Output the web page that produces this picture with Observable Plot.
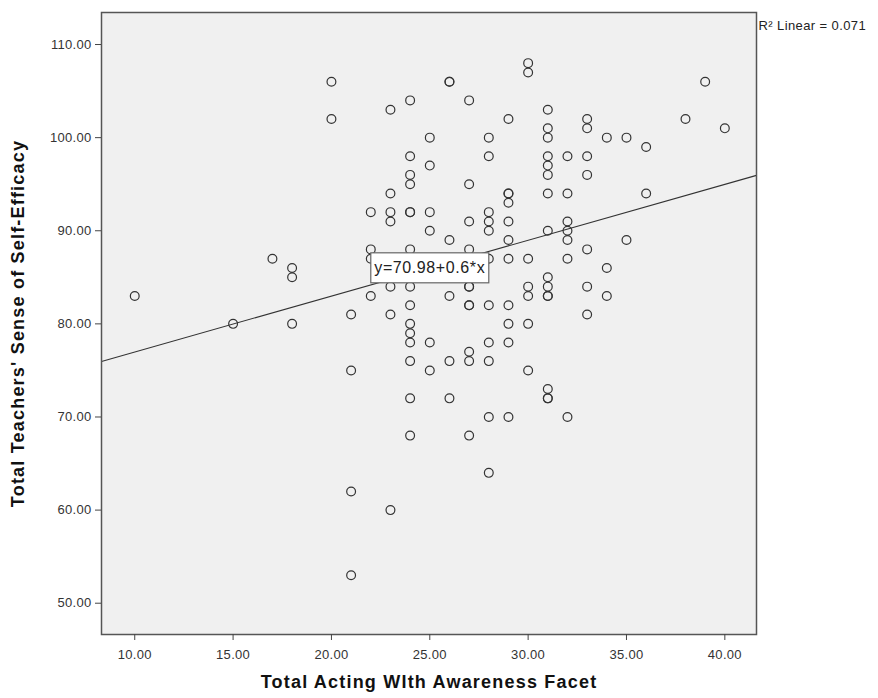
<!DOCTYPE html>
<html>
<head>
<meta charset="utf-8">
<script src="https://cdn.jsdelivr.net/npm/d3@7"></script>
<script src="https://cdn.jsdelivr.net/npm/@observablehq/plot@0.6"></script>
<style>
  html, body { margin: 0; padding: 0; background: #fff; }
  #chart svg { display: block; }
</style>
</head>
<body>
<div id="chart"></div>
<script>
// Total Acting With Awareness Facet (x) for each respondent
const actingWithAwareness = [
  10,
  15,
  17,
  18, 18, 18,
  20, 20,
  21, 21, 21, 21,
  22, 22, 22, 22,
  23, 23, 23, 23, 23, 23, 23,
  24, 24, 24, 24, 24, 24, 24, 24, 24, 24, 24, 24, 24, 24, 24,
  25, 25, 25, 25, 25, 25,
  26, 26, 26, 26, 26, 26,
  27, 27, 27, 27, 27, 27, 27, 27, 27, 27, 27,
  28, 28, 28, 28, 28, 28, 28, 28, 28, 28, 28,
  29, 29, 29, 29, 29, 29, 29, 29, 29, 29, 29,
  30, 30, 30, 30, 30, 30, 30,
  31, 31, 31, 31, 31, 31, 31, 31, 31, 31, 31, 31, 31, 31, 31,
  32, 32, 32, 32, 32, 32, 32,
  33, 33, 33, 33, 33, 33, 33,
  34, 34, 34,
  35, 35,
  36, 36,
  38,
  39,
  40
];
// Total Teachers' Sense of Self-Efficacy (y) for each respondent
const selfEfficacy = [
  83,
  80,
  87,
  86, 85, 80,
  106, 102,
  81, 75, 62, 53,
  92, 88, 87, 83,
  103, 94, 92, 91, 84, 81, 60,
  104, 98, 96, 95, 92, 92, 88, 84, 82, 80, 79, 78, 76, 72, 68,
  100, 97, 92, 90, 78, 75,
  106, 106, 89, 83, 76, 72,
  104, 95, 91, 88, 84, 84, 82, 82, 77, 76, 68,
  100, 98, 92, 91, 90, 87, 82, 78, 76, 70, 64,
  102, 94, 94, 93, 91, 89, 87, 82, 80, 78, 70,
  108, 107, 87, 84, 83, 80, 75,
  103, 101, 100, 98, 97, 96, 94, 90, 85, 84, 83, 83, 73, 72, 72,
  98, 94, 91, 90, 89, 87, 70,
  102, 101, 98, 96, 88, 84, 81,
  100, 86, 83,
  100, 89,
  99, 94,
  102,
  106,
  101
];

const xTicks = [10, 15, 20, 25, 30, 35, 40];
const yTicks = [50, 60, 70, 80, 90, 100, 110];
const xDomain = [8.31, 41.61];
const yDomain = [46.64, 113.44];

const fitIntercept = 70.98;
const fitSlope = 0.6;
const fitLabelX = 25;
const fitLabel = "y=70.98+0.6*x";
const r2Label = "R² Linear = 0.071";
const xTitle = "Total Acting WIth Awareness Facet";
const yTitle = "Total Teachers' Sense of Self-Efficacy";

const points = actingWithAwareness.map((x, i) => ({x, y: selfEfficacy[i]}));
const fitLine = xDomain.map(x => ({x, y: fitIntercept + fitSlope * x}));
const fitLabelDatum = [{x: fitLabelX, y: fitIntercept + fitSlope * fitLabelX, text: fitLabel}];

const font = "'Liberation Sans', Arial, sans-serif";

const chart = Plot.plot({
  width: 878,
  height: 698,
  marginLeft: 101,
  marginRight: 122,
  marginTop: 12,
  marginBottom: 64,
  x: {domain: xDomain},
  y: {domain: yDomain},
  style: {fontFamily: font, background: "#fff", color: "#333", overflow: "visible"},
  marks: [
    Plot.frame({fill: "#f0f0f0"}),
    Plot.line(fitLine, {x: "x", y: "y", stroke: "#333", strokeWidth: 1.1}),
    Plot.dot(points, {x: "x", y: "y", r: 4.4, stroke: "#333", strokeWidth: 1.2, fill: "none"}),
    Plot.text(fitLabelDatum, {x: "x", y: "y", text: "text", fontSize: 16, fill: "#222", className: "fit-label"}),
    Plot.frame({stroke: "#555", strokeWidth: 1.5}),
    Plot.axisX({ticks: xTicks, tickFormat: d => d.toFixed(2), tickSize: 6, tickPadding: 9, label: null, fontSize: 13, stroke: "#444", fill: "#333", className: "tick-text"}),
    Plot.axisY({ticks: yTicks, tickFormat: d => d.toFixed(2), tickSize: 6, tickPadding: 4, label: null, fontSize: 13, stroke: "#444", fill: "#333", className: "tick-text"}),
    Plot.text([xTitle], {frameAnchor: "bottom", dy: 53, text: d => d, fontSize: 18, fontWeight: "bold", fill: "#111", className: "axis-title"}),
    Plot.text([yTitle], {frameAnchor: "left", textAnchor: "middle", dx: -83, rotate: -90, text: d => d, fontSize: 18, fontWeight: "bold", fill: "#111", className: "axis-title"}),
    Plot.text([r2Label], {frameAnchor: "top-right", dx: 2, dy: 8, textAnchor: "start", text: d => d, fontSize: 13, fill: "#222", className: "r2-label"})
  ]
});

document.getElementById("chart").appendChild(chart);

// SPSS-like text widths
chart.querySelectorAll(".axis-title text").forEach(t => t.style.letterSpacing = "1.2px");
chart.querySelectorAll(".tick-text text").forEach(t => t.style.letterSpacing = "0.3px");
chart.querySelectorAll(".r2-label text").forEach(t => t.style.letterSpacing = "0.4px");
chart.querySelectorAll(".fit-label text").forEach(t => t.style.letterSpacing = "0.6px");

// white box behind the fit equation
const lbl = chart.querySelector(".fit-label text");
if (lbl) {
  const bb = lbl.getBBox();
  const rect = document.createElementNS("http://www.w3.org/2000/svg", "rect");
  const cx = bb.x + bb.width / 2, cy = bb.y + bb.height / 2;
  const w = bb.width + 7, h = 30;
  rect.setAttribute("x", cx - w / 2);
  rect.setAttribute("y", cy - h / 2);
  rect.setAttribute("width", w);
  rect.setAttribute("height", h);
  rect.setAttribute("fill", "#fff");
  rect.setAttribute("stroke", "#666");
  rect.setAttribute("stroke-width", 1.2);
  const tr = lbl.getAttribute("transform");
  if (tr) rect.setAttribute("transform", tr);
  lbl.parentNode.insertBefore(rect, lbl);
}
</script>
</body>
</html>
